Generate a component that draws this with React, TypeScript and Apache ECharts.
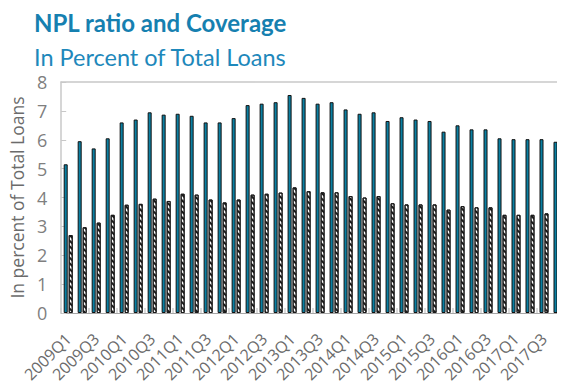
import React, { useEffect, useRef } from "react";
import * as echarts from "echarts";

const categories = [
  "2009Q1", "2009Q2", "2009Q3", "2009Q4",
  "2010Q1", "2010Q2", "2010Q3", "2010Q4",
  "2011Q1", "2011Q2", "2011Q3", "2011Q4",
  "2012Q1", "2012Q2", "2012Q3", "2012Q4",
  "2013Q1", "2013Q2", "2013Q3", "2013Q4",
  "2014Q1", "2014Q2", "2014Q3", "2014Q4",
  "2015Q1", "2015Q2", "2015Q3", "2015Q4",
  "2016Q1", "2016Q2", "2016Q3", "2016Q4",
  "2017Q1", "2017Q2", "2017Q3", "2017Q4",
];

const nplRatio = [
  5.15, 5.95, 5.7, 6.05,
  6.6, 6.7, 6.95, 6.87,
  6.9, 6.83, 6.6, 6.6,
  6.75, 7.2, 7.25, 7.3,
  7.55, 7.45, 7.25, 7.3,
  7.05, 6.9, 6.95, 6.65,
  6.78, 6.7, 6.65, 6.28,
  6.5, 6.36, 6.36, 6.05,
  6.02, 6.02, 6.02, 5.93,
];

const coverage = [
  2.7, 2.97, 3.13, 3.4,
  3.75, 3.78, 3.96, 3.88,
  4.13, 4.1, 3.93, 3.83,
  3.93, 4.1, 4.13, 4.17,
  4.35, 4.22, 4.18, 4.18,
  4.05, 4.0, 4.05, 3.8,
  3.76, 3.76, 3.76, 3.58,
  3.7, 3.66, 3.66, 3.4,
  3.4, 3.4, 3.45, 3.4,
];

const titleText = "NPL ratio and Coverage";
const subtitleText = "In Percent of Total Loans";
const yAxisName = "In percent of Total Loans";

export default function App() {
  const ref = useRef<HTMLDivElement>(null);
  useEffect(() => {
    if (!ref.current) return;
    const chart = echarts.init(ref.current, null, { renderer: "svg" });
    const gray = "#7f7f7f";
    chart.setOption({
      animation: false,
      backgroundColor: "#ffffff",
      title: [
        {
          text: titleText,
          left: 29,
          top: 5,
          textStyle: {
            fontFamily: "Lato",
            fontWeight: "bold",
            fontSize: 24,
            color: "#1680b0",
          },
        },
        {
          text: subtitleText,
          left: 29,
          top: 40,
          textStyle: {
            fontFamily: "Lato",
            fontWeight: "normal",
            fontSize: 23.5,
            color: "#1e88bb",
          },
        },
      ],
      grid: { left: 52, right: -2, top: 82, bottom: 79, containLabel: false },
      xAxis: [
        {
          type: "category",
          data: categories,
          position: "bottom",
          axisLine: { show: true, lineStyle: { color: "#a6a6a6", width: 1 } },
          axisTick: {
            show: true,
            inside: true,
            length: 5,
            lineStyle: { color: "#cfcfcf", width: 1.5 },
          },
          axisLabel: {
            interval: 1,
            rotate: 45,
            margin: 23,
            fontFamily: "Open Sans",
            fontSize: 16,
            color: "#6b6b6b",
          },
          splitLine: { show: false },
        },
        {
          type: "category",
          data: categories,
          position: "top",
          axisLine: { show: true, lineStyle: { color: "#c8c8c8", width: 1.5 } },
          axisTick: { show: false },
          axisLabel: { show: false },
        },
      ],
      yAxis: {
        type: "value",
        min: 0,
        max: 8,
        interval: 1,
        name: yAxisName,
        nameLocation: "middle",
        nameGap: 33,
        nameTextStyle: {
          fontFamily: "Open Sans",
          fontSize: 17.5,
          color: "#6b6b6b",
        },
        axisLine: { show: true, lineStyle: { color: "#c8c8c8", width: 1.5 } },
        axisTick: {
          show: true,
          inside: true,
          length: 5,
          lineStyle: { color: "#c8c8c8", width: 1 },
        },
        axisLabel: {
          margin: 14,
          fontFamily: "Open Sans",
          fontSize: 18,
          color: gray,
        },
        splitLine: { show: false },
      },
      series: [
        {
          name: "NPL ratio",
          type: "bar",
          data: nplRatio,
          barWidth: 4,
          barGap: "25%",
          itemStyle: {
            color: "#0a80a3",
            borderColor: "#111111",
            borderWidth: 1,
          },
        },
        {
          name: "Coverage",
          type: "bar",
          data: coverage,
          barWidth: 4,
          itemStyle: {
            color: "#ffffff",
            borderColor: "#1a1a1a",
            borderWidth: 1,
            decal: {
              symbol: "rect",
              symbolSize: 1,
              dashArrayX: [1, 0],
              dashArrayY: [1.2, 1.8],
              rotation: Math.PI / 4,
              color: "#1a1a1a",
              backgroundColor: "#ffffff",
            },
          },
        },
      ],
    });
    return () => chart.dispose();
  }, []);
  return <div ref={ref} style={{ width: 565, height: 392, margin: -8 }} />;
}
